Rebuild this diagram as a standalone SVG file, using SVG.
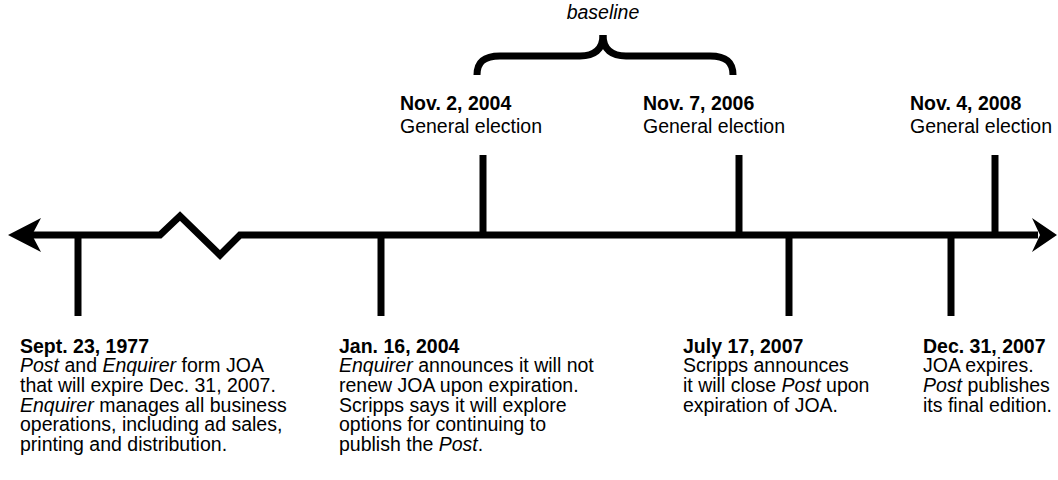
<svg xmlns="http://www.w3.org/2000/svg" width="1058" height="480" viewBox="0 0 1058 480">
<style>
text{font-family:"Liberation Sans",Arial,Helvetica,sans-serif;font-size:19.5px;fill:#000}
.b{font-weight:bold}
.i{font-style:italic}
.tick{stroke:#000;stroke-width:7;fill:none}
.line{stroke:#000;stroke-width:7;fill:none;stroke-linejoin:miter}
.head{fill:#000}
</style>
<rect width="1058" height="480" fill="#fff"/>
<g id="connectors">
<path class="line" d="M30 235 L160 235 L180 216 L220 255 L240 235 L1038 235"/>
<polygon class="head" points="8,235 41,218 32,235 41,252"/>
<polygon class="head" points="1057,235 1032,218 1040,235 1032,252"/>
</g>
<g id="baseline-brace">
<path class="line" d="M477 75 C477 62 484 56 500 56 L580 56 C594 56 603 50 603 35"/>
<path class="line" d="M733 75 C733 62 726 56 710 56 L626 56 C612 56 603 50 603 35"/>
<text class="i" x="603" y="19" text-anchor="middle">baseline</text>
</g>
<g id="event-1977">
<line class="tick" x1="78" y1="235" x2="78" y2="316"/>
<text x="20" y="352.5"><tspan class="b">Sept. 23, 1977</tspan>
<tspan x="20" dy="19.7"><tspan class="i">Post</tspan> and <tspan class="i">Enquirer</tspan> form JOA</tspan>
<tspan x="20" dy="19.7">that will expire Dec. 31, 2007.</tspan>
<tspan x="20" dy="19.7"><tspan class="i">Enquirer</tspan> manages all business</tspan>
<tspan x="20" dy="19.7">operations, including ad sales,</tspan>
<tspan x="20" dy="19.7">printing and distribution.</tspan></text>
</g>
<g id="event-2004-jan">
<line class="tick" x1="381" y1="235" x2="381" y2="316"/>
<text x="339" y="352.5"><tspan class="b">Jan. 16, 2004</tspan>
<tspan x="339" dy="19.7"><tspan class="i">Enquirer</tspan> announces it will not</tspan>
<tspan x="339" dy="19.7">renew JOA upon expiration.</tspan>
<tspan x="339" dy="19.7">Scripps says it will explore</tspan>
<tspan x="339" dy="19.7">options for continuing to</tspan>
<tspan x="339" dy="19.7">publish the <tspan class="i">Post</tspan>.</tspan></text>
</g>
<g id="election-2004">
<line class="tick" x1="483" y1="155" x2="483" y2="235"/>
<text x="400" y="110"><tspan class="b">Nov. 2, 2004</tspan>
<tspan x="400" dy="22.5">General election</tspan></text>
</g>
<g id="election-2006">
<line class="tick" x1="739" y1="155" x2="739" y2="235"/>
<text x="643" y="110"><tspan class="b">Nov. 7, 2006</tspan>
<tspan x="643" dy="22.5">General election</tspan></text>
</g>
<g id="event-2007-jul">
<line class="tick" x1="789" y1="235" x2="789" y2="316"/>
<text x="683" y="352.5"><tspan class="b">July 17, 2007</tspan>
<tspan x="683" dy="19.7">Scripps announces</tspan>
<tspan x="683" dy="19.7">it will close <tspan class="i">Post</tspan> upon</tspan>
<tspan x="683" dy="19.7">expiration of JOA.</tspan></text>
</g>
<g id="event-2007-dec">
<line class="tick" x1="951" y1="235" x2="951" y2="316"/>
<text x="923" y="352.5"><tspan class="b">Dec. 31, 2007</tspan>
<tspan x="923" dy="19.7">JOA expires.</tspan>
<tspan x="923" dy="19.7"><tspan class="i">Post</tspan> publishes</tspan>
<tspan x="923" dy="19.7">its final edition.</tspan></text>
</g>
<g id="election-2008">
<line class="tick" x1="995" y1="155" x2="995" y2="235"/>
<text x="910" y="110"><tspan class="b">Nov. 4, 2008</tspan>
<tspan x="910" dy="22.5">General election</tspan></text>
</g>
</svg>
